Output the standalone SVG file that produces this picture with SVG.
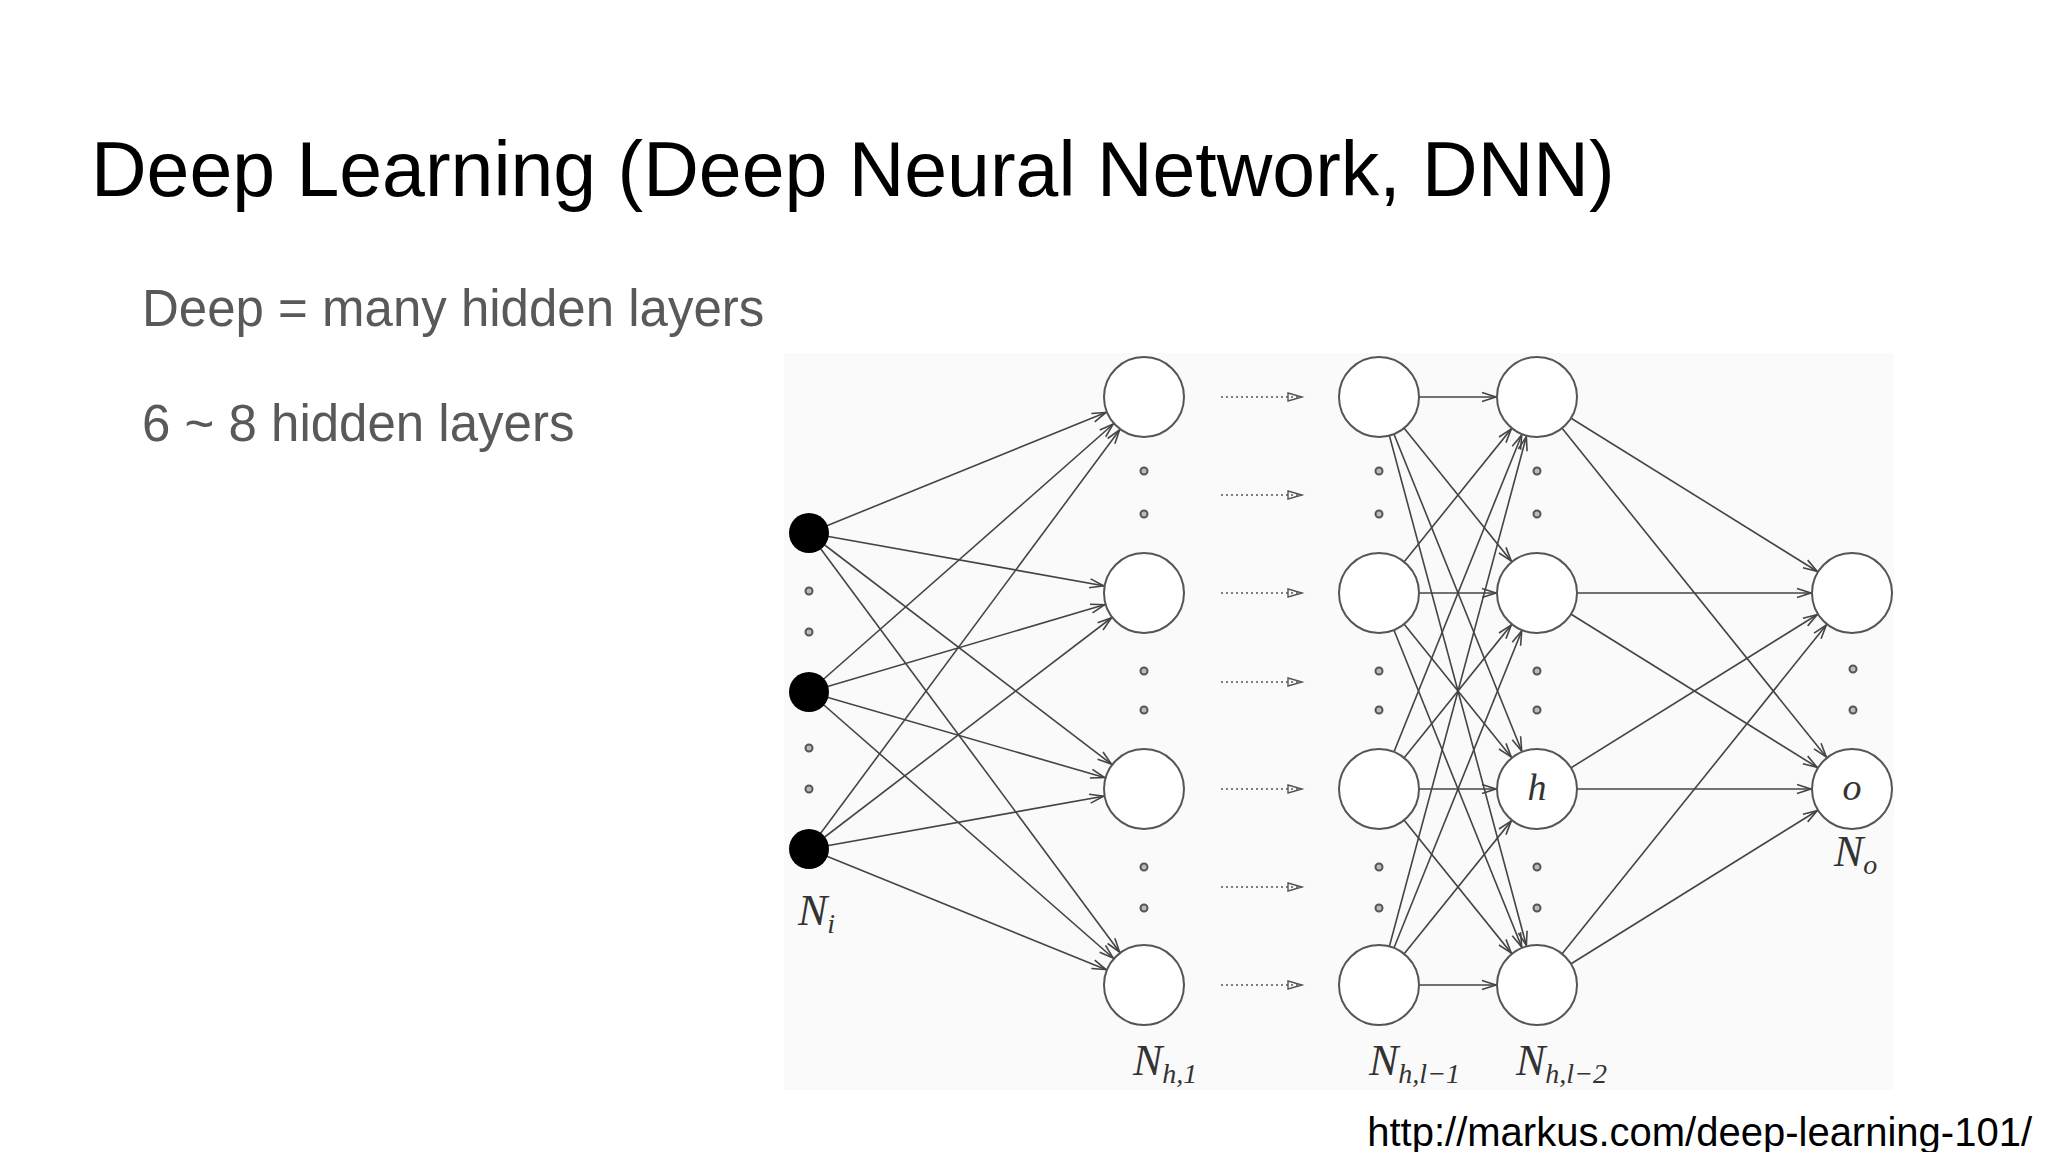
<svg xmlns="http://www.w3.org/2000/svg" width="2048" height="1152" viewBox="0 0 2048 1152">
<defs>
<marker id="ah" markerUnits="userSpaceOnUse" markerWidth="1" markerHeight="1" refX="0" refY="0" orient="auto" overflow="visible">
<path d="M -55 -4.5 L -41 0 L -55 4.5" fill="none" stroke="#444" stroke-width="1.6"/>
</marker>
<marker id="dh" markerUnits="userSpaceOnUse" markerWidth="1" markerHeight="1" refX="0" refY="0" orient="auto" overflow="visible">
<path d="M -14 -4 L 0 0 L -14 4 Z" fill="none" stroke="#555" stroke-width="1.4"/>
</marker>
</defs>
<style>
.t{font-family:"Liberation Sans",Arial,sans-serif}
.m{font-family:"Liberation Serif","DejaVu Serif",serif;font-style:italic;fill:#333}
.e{stroke:#444;stroke-width:1.6;fill:none;marker-end:url(#ah)}
.d{stroke:#555;stroke-width:1.6;stroke-dasharray:2 3;marker-end:url(#dh)}
.n{fill:#fff;stroke:#555;stroke-width:2}
.k{fill:#000}
.p{fill:#bbb;stroke:#555;stroke-width:2}
</style>
<rect width="2048" height="1152" fill="#fff"/>
<rect x="784" y="353" width="1110" height="737" fill="#fafafa"/>
<text class="t" x="91" y="196" font-size="77" fill="#000">Deep Learning (Deep Neural Network, DNN)</text>
<text class="t" x="142" y="326" font-size="51" fill="#595959">Deep = many hidden layers</text>
<text class="t" x="142" y="441" font-size="51" fill="#595959">6 ~ 8 hidden layers</text>
<text class="t" x="2032" y="1146" font-size="40" fill="#000" text-anchor="end">http://markus.com/deep-learning-101/</text>
<g id="connectors">
<line class="e" x1="809" y1="533" x2="1144" y2="397"/><line class="e" x1="809" y1="533" x2="1144" y2="593"/><line class="e" x1="809" y1="533" x2="1144" y2="789"/><line class="e" x1="809" y1="533" x2="1144" y2="985"/>
<line class="e" x1="809" y1="692" x2="1144" y2="397"/><line class="e" x1="809" y1="692" x2="1144" y2="593"/><line class="e" x1="809" y1="692" x2="1144" y2="789"/><line class="e" x1="809" y1="692" x2="1144" y2="985"/>
<line class="e" x1="809" y1="849" x2="1144" y2="397"/><line class="e" x1="809" y1="849" x2="1144" y2="593"/><line class="e" x1="809" y1="849" x2="1144" y2="789"/><line class="e" x1="809" y1="849" x2="1144" y2="985"/>
<line class="d" x1="1221" y1="397" x2="1302" y2="397"/><line class="d" x1="1221" y1="495" x2="1302" y2="495"/><line class="d" x1="1221" y1="593" x2="1302" y2="593"/><line class="d" x1="1221" y1="682" x2="1302" y2="682"/><line class="d" x1="1221" y1="789" x2="1302" y2="789"/><line class="d" x1="1221" y1="887" x2="1302" y2="887"/><line class="d" x1="1221" y1="985" x2="1302" y2="985"/>
<line class="e" x1="1379" y1="397" x2="1537" y2="397"/><line class="e" x1="1379" y1="397" x2="1537" y2="593"/><line class="e" x1="1379" y1="397" x2="1537" y2="789"/><line class="e" x1="1379" y1="397" x2="1537" y2="985"/>
<line class="e" x1="1379" y1="593" x2="1537" y2="397"/><line class="e" x1="1379" y1="593" x2="1537" y2="593"/><line class="e" x1="1379" y1="593" x2="1537" y2="789"/><line class="e" x1="1379" y1="593" x2="1537" y2="985"/>
<line class="e" x1="1379" y1="789" x2="1537" y2="397"/><line class="e" x1="1379" y1="789" x2="1537" y2="593"/><line class="e" x1="1379" y1="789" x2="1537" y2="789"/><line class="e" x1="1379" y1="789" x2="1537" y2="985"/>
<line class="e" x1="1379" y1="985" x2="1537" y2="397"/><line class="e" x1="1379" y1="985" x2="1537" y2="593"/><line class="e" x1="1379" y1="985" x2="1537" y2="789"/><line class="e" x1="1379" y1="985" x2="1537" y2="985"/>
<line class="e" x1="1537" y1="397" x2="1852" y2="593"/><line class="e" x1="1537" y1="397" x2="1852" y2="789"/>
<line class="e" x1="1537" y1="593" x2="1852" y2="593"/><line class="e" x1="1537" y1="593" x2="1852" y2="789"/>
<line class="e" x1="1537" y1="789" x2="1852" y2="593"/><line class="e" x1="1537" y1="789" x2="1852" y2="789"/>
<line class="e" x1="1537" y1="985" x2="1852" y2="593"/><line class="e" x1="1537" y1="985" x2="1852" y2="789"/>
</g>
<g id="input"><circle class="k" cx="809" cy="533" r="20"/><circle class="k" cx="809" cy="692" r="20"/><circle class="k" cx="809" cy="849" r="20"/>
<circle class="p" cx="809" cy="591" r="3.5"/><circle class="p" cx="809" cy="632" r="3.5"/><circle class="p" cx="809" cy="748" r="3.5"/><circle class="p" cx="809" cy="789" r="3.5"/>
<text class="m" x="798" y="925" font-size="44">N<tspan font-size="28" dy="8">i</tspan></text></g>
<g id="hidden1"><circle class="n" cx="1144" cy="397" r="40"/><circle class="n" cx="1144" cy="593" r="40"/><circle class="n" cx="1144" cy="789" r="40"/><circle class="n" cx="1144" cy="985" r="40"/>
<circle class="p" cx="1144" cy="471" r="3.5"/><circle class="p" cx="1144" cy="514" r="3.5"/><circle class="p" cx="1144" cy="671" r="3.5"/><circle class="p" cx="1144" cy="710" r="3.5"/><circle class="p" cx="1144" cy="867" r="3.5"/><circle class="p" cx="1144" cy="908" r="3.5"/>
<text class="m" x="1133" y="1075" font-size="44">N<tspan font-size="28" dy="8">h,1</tspan></text></g>
<g id="hiddenL1"><circle class="n" cx="1379" cy="397" r="40"/><circle class="n" cx="1379" cy="593" r="40"/><circle class="n" cx="1379" cy="789" r="40"/><circle class="n" cx="1379" cy="985" r="40"/>
<circle class="p" cx="1379" cy="471" r="3.5"/><circle class="p" cx="1379" cy="514" r="3.5"/><circle class="p" cx="1379" cy="671" r="3.5"/><circle class="p" cx="1379" cy="710" r="3.5"/><circle class="p" cx="1379" cy="867" r="3.5"/><circle class="p" cx="1379" cy="908" r="3.5"/>
<text class="m" x="1369" y="1075" font-size="44">N<tspan font-size="28" dy="8">h,l−1</tspan></text></g>
<g id="hiddenL2"><circle class="n" cx="1537" cy="397" r="40"/><circle class="n" cx="1537" cy="593" r="40"/><circle class="n" cx="1537" cy="789" r="40"/><circle class="n" cx="1537" cy="985" r="40"/>
<circle class="p" cx="1537" cy="471" r="3.5"/><circle class="p" cx="1537" cy="514" r="3.5"/><circle class="p" cx="1537" cy="671" r="3.5"/><circle class="p" cx="1537" cy="710" r="3.5"/><circle class="p" cx="1537" cy="867" r="3.5"/><circle class="p" cx="1537" cy="908" r="3.5"/>
<text class="m" x="1537" y="800" font-size="38" text-anchor="middle">h</text>
<text class="m" x="1516" y="1075" font-size="44">N<tspan font-size="28" dy="8">h,l−2</tspan></text></g>
<g id="output"><circle class="n" cx="1852" cy="593" r="40"/><circle class="n" cx="1852" cy="789" r="40"/>
<circle class="p" cx="1853" cy="669" r="3.5"/><circle class="p" cx="1853" cy="710" r="3.5"/>
<text class="m" x="1852" y="800" font-size="38" text-anchor="middle">o</text>
<text class="m" x="1834" y="866" font-size="44">N<tspan font-size="28" dy="8">o</tspan></text></g>
</svg>
